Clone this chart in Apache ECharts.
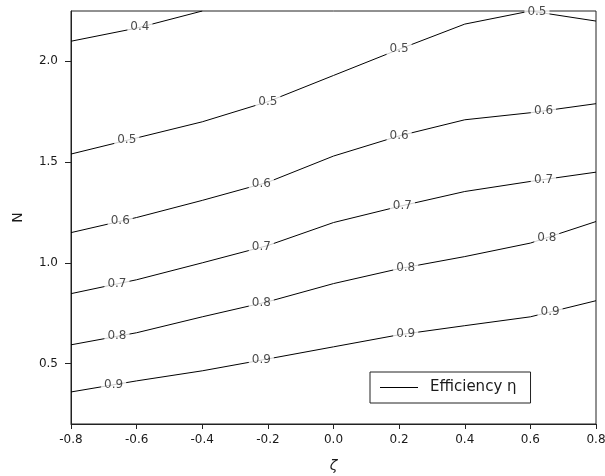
<!DOCTYPE html>
<html>
<head>
<meta charset="utf-8">
<script src="https://cdn.jsdelivr.net/npm/echarts@6/dist/echarts.min.js"></script>
<style>
  html, body { margin: 0; padding: 0; background: #fff; }
  #chart { width: 605px; height: 476px; }
</style>
</head>
<body>
<div id="chart"></div>
<script>
// Curvature parameter ζ along the horizontal axis
const zeta = [-0.8, -0.6, -0.4, -0.2, 0.0, 0.2, 0.4, 0.6, 0.8];

// N value of each efficiency iso-line at every ζ (null where the line leaves the plot)
const eta04 = [2.10, 2.165, 2.25, null, null, null, null, null, null];
const eta05 = [1.54, 1.62, 1.70, 1.80, 1.93, 2.06, 2.185, 2.25, 2.20];
const eta06 = [1.15, 1.225, 1.31, 1.40, 1.53, 1.63, 1.71, 1.745, 1.79];
const eta07 = [0.847, 0.916, 1.00, 1.086, 1.20, 1.28, 1.354, 1.404, 1.45];
const eta08 = [0.593, 0.653, 0.732, 0.807, 0.897, 0.971, 1.031, 1.098, 1.205];
const eta09 = [0.359, 0.414, 0.464, 0.523, 0.583, 0.643, 0.688, 0.732, 0.812];

// ζ positions where each line carries its inline value label
const labelAt04 = [-0.59];
const labelAt05 = [-0.63, -0.20, 0.20, 0.62];
const labelAt06 = [-0.65, -0.22, 0.20, 0.64];
const labelAt07 = [-0.66, -0.22, 0.21, 0.64];
const labelAt08 = [-0.66, -0.22, 0.22, 0.65];
const labelAt09 = [-0.67, -0.22, 0.22, 0.66];

// Axis tick values
const nTicks = [0.5, 1.0, 1.5, 2.0];

const legendName = 'Efficiency η';

const contours = [
  { level: '0.4', values: eta04, labels: labelAt04 },
  { level: '0.5', values: eta05, labels: labelAt05 },
  { level: '0.6', values: eta06, labels: labelAt06 },
  { level: '0.7', values: eta07, labels: labelAt07 },
  { level: '0.8', values: eta08, labels: labelAt08 },
  { level: '0.9', values: eta09, labels: labelAt09 }
];

// Linear interpolation along a line's points (skipping missing ones)
function valueAt(values, x) {
  const pts = [];
  zeta.forEach((z, i) => { if (values[i] != null) pts.push([z, values[i]]); });
  for (let i = 0; i < pts.length - 1; i++) {
    const [x0, y0] = pts[i], [x1, y1] = pts[i + 1];
    if (x >= x0 && x <= x1) return y0 + (y1 - y0) * (x - x0) / (x1 - x0);
  }
  return pts[pts.length - 1][1];
}

const FONT = 'DejaVu Sans';
const INK = '#1a1a1a';

const series = [];
contours.forEach(c => {
  series.push({
    name: legendName,
    type: 'line',
    data: zeta.map((z, i) => [z, c.values[i]]),
    showSymbol: false,
    symbol: 'none',
    connectNulls: false,
    lineStyle: { color: '#000', width: 1 },
    itemStyle: { color: '#000' },
    z: 2,
    silent: true
  });
  series.push({
    name: 'label ' + c.level,
    type: 'scatter',
    data: c.labels.map(x => ({ value: [x, valueAt(c.values, x)], name: c.level })),
    symbolSize: 1,
    itemStyle: { color: 'rgba(0,0,0,0)' },
    label: {
      show: true,
      position: 'inside',
      formatter: p => p.name,
      fontFamily: FONT,
      fontSize: 12,
      color: INK,
      backgroundColor: '#fff',
      padding: [1, 3]
    },
    z: 5,
    silent: true
  });
});

const chart = echarts.init(document.getElementById('chart'), null, { renderer: 'canvas' });
chart.setOption({
  animation: false,
  backgroundColor: '#fff',
  grid: {
    left: 71, right: 9, top: 11, bottom: 52,
    outerBoundsMode: 'none',
    containLabel: false,
    show: true, borderColor: '#222', borderWidth: 1, backgroundColor: 'transparent'
  },
  legend: {
    data: [legendName],
    left: 370, top: 372,
    orient: 'horizontal',
    icon: 'rect',
    itemWidth: 38, itemHeight: 1,
    borderColor: '#222', borderWidth: 1, borderRadius: 0,
    padding: [8, 14, 8, 10],
    backgroundColor: '#fff',
    textStyle: { fontFamily: FONT, fontSize: 15, color: INK, padding: [0, 0, 0, 7] },
    selectedMode: false
  },
  xAxis: {
    type: 'value',
    min: -0.8, max: 0.8, interval: 0.2,
    name: 'ζ',
    nameLocation: 'middle',
    nameGap: 35,
    nameTextStyle: { fontFamily: FONT, fontSize: 14, fontStyle: 'italic', color: INK },
    axisLine: { show: true, onZero: false, lineStyle: { color: '#222', width: 1 } },
    axisTick: { show: true, length: 5, inside: false, lineStyle: { color: '#222' } },
    axisLabel: {
      fontFamily: FONT, fontSize: 12, color: INK, margin: 10,
      formatter: v => v.toFixed(1),
      showMinLabel: true, showMaxLabel: true
    },
    splitLine: { show: false }
  },
  yAxis: {
    type: 'value',
    min: 0.2, max: 2.25,
    name: 'N',
    nameLocation: 'middle',
    nameGap: 46,
    nameTextStyle: { fontFamily: FONT, fontSize: 14, color: INK },
    axisLine: { show: true, onZero: false, lineStyle: { color: '#222', width: 1 } },
    axisTick: { show: true, length: 6, inside: false, customValues: nTicks, lineStyle: { color: '#222' } },
    axisLabel: {
      fontFamily: FONT, fontSize: 12, color: INK, margin: 13,
      customValues: nTicks,
      formatter: v => v.toFixed(1)
    },
    splitLine: { show: false }
  },
  series: series
});
</script>
</body>
</html>
